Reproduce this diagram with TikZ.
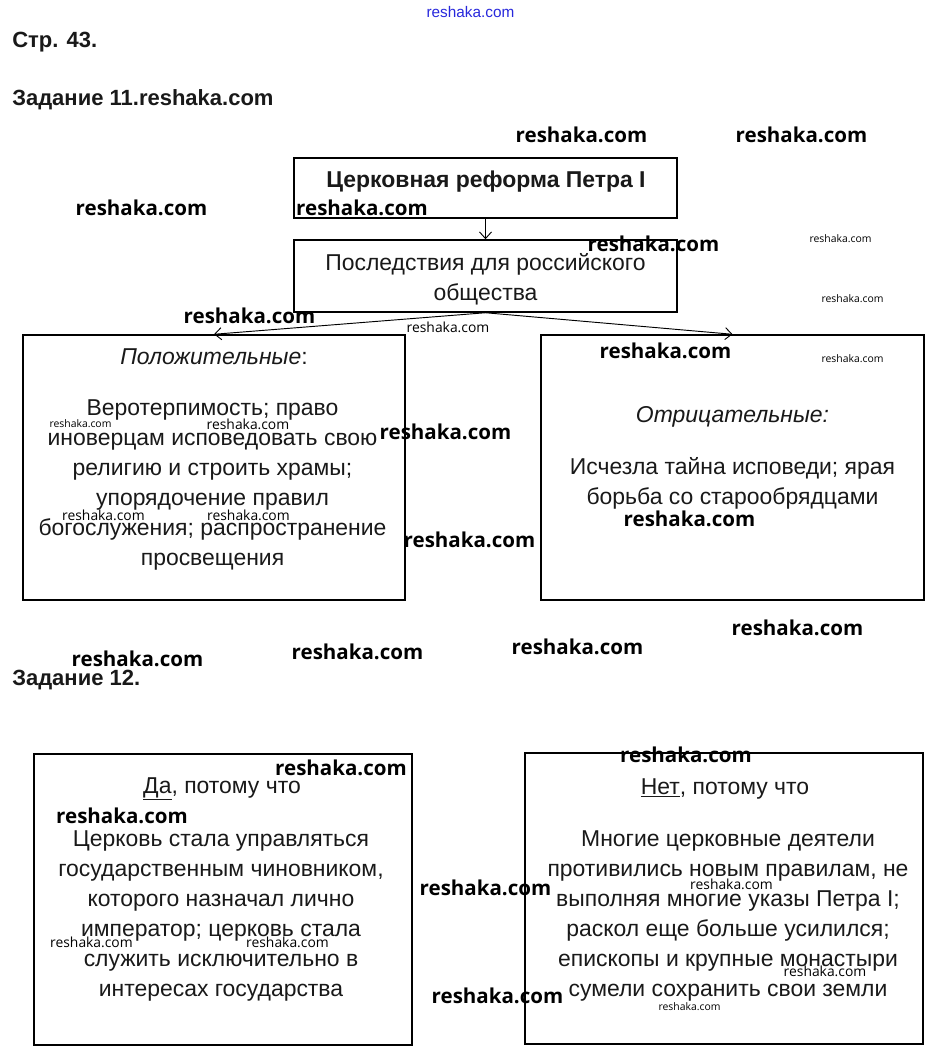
\documentclass[tikz,border=0pt]{standalone}
\usepackage{fontspec}
\setmainfont{Liberation Sans}
\newfontfamily\wmfont{Open Sans}
\usetikzlibrary{arrows.meta}
\definecolor{wmblue}{RGB}{40,40,220}
\definecolor{ink}{RGB}{25,25,25}
\tikzset{
  box/.style={draw, line width=1.1pt, inner sep=0pt},
  body/.style={align=center, inner sep=0pt, text=ink, font=\fontsize{17.2}{22.6}\selectfont},
  head/.style={inner sep=0pt, text=ink, font=\fontsize{16.5}{22.5}\selectfont\bfseries},
  conn/.style={line width=0.7pt, -{Straight Barb[length=5pt,width=9pt]}},
  wmbig/.style={inner sep=0pt, font=\wmfont\bfseries\fontsize{15.4}{18}\selectfont},
  wmmid/.style={inner sep=0pt, font=\wmfont\fontsize{10.4}{12}\selectfont},
  wmsmall/.style={inner sep=0pt, font=\wmfont\fontsize{7.8}{9}\selectfont},
}
\begin{document}
\begin{tikzpicture}[x=0.75pt,y=-0.75pt]
\useasboundingbox[fill=white] (0,0) rectangle (937,1058);

% headings
\node[inner sep=0pt, text=wmblue, font=\fontsize{11.5}{13}\selectfont] (wmtop) at (470.5,12) {reshaka.com};
\node[head, anchor=west] (page) at (12,42) {Стр. 43.};
\node[head, anchor=west] (task11) at (12,100) {Задание 11.reshaka.com};
\node[head, anchor=west] (task12) at (12,680) {Задание 12.};

% boxes
\node[box, minimum width=383*0.75pt, minimum height=60*0.75pt] (b1) at (485.5,188) {};
\node[box, minimum width=383*0.75pt, minimum height=72*0.75pt] (b2) at (485.5,276) {};
\node[box, minimum width=382*0.75pt, minimum height=265*0.75pt] (pos) at (214,467.5) {};
\node[box, minimum width=383*0.75pt, minimum height=265*0.75pt] (neg) at (732.5,467.5) {};
\node[box, minimum width=378*0.75pt, minimum height=291*0.75pt] (yes) at (223,899.5) {};
\node[box, minimum width=398*0.75pt, minimum height=291*0.75pt] (no) at (724,898.5) {};

% texts
\node[head, font=\fontsize{17.2}{22.5}\selectfont\bfseries] (t1) at (486,182) {Церковная реформа Петра I};
\node[body] (t2) at (485.5,279) {Последствия для российского\\общества};
\node[body] (posh) at (214,357) {\itshape Положительные\upshape:};
\node[body] (post) at (212.5,485) {Веротерпимость; право\\иноверцам исповедовать свою\\религию и строить храмы;\\упорядочение правил\\богослужения; распространение\\просвещения};
\node[body] (negh) at (732.5,417) {\itshape Отрицательные:};
\node[body] (negt) at (732.5,483) {Исчезла тайна исповеди; ярая\\борьба со старообрядцами};
\node[body] (yesh) at (222,789) {\underline{Да}, потому что};
\node[body] (yest) at (221,916) {Церковь стала управляться\\государственным чиновником,\\которого назначал лично\\император; церковь стала\\служить исключительно в\\интересах государства};
\node[body] (noh) at (725,789) {\underline{Нет}, потому что};
\node[body] (not) at (728,916) {Многие церковные деятели\\противились новым правилам, не\\выполняя многие указы Петра I;\\раскол еще больше усилился;\\епископы и крупные монастыри\\сумели сохранить свои земли};

% connectors
\draw[conn] (b1.south) -- (b2.north);
\draw[conn] (b2.south) -- (pos.north);
\draw[conn] (b2.south) -- (neg.north);

% watermarks (big)
\node[wmbig] (w1) at (581.5,135) {reshaka.com};
\node[wmbig] (w2) at (801.5,135) {reshaka.com};
\node[wmbig] (w3) at (141.5,208) {reshaka.com};
\node[wmbig] (w4) at (362,208) {reshaka.com};
\node[wmbig] (w5) at (653.5,244) {reshaka.com};
\node[wmbig] (w6) at (249.5,316) {reshaka.com};
\node[wmbig] (w7) at (665.5,351) {reshaka.com};
\node[wmbig] (w8) at (445.5,432) {reshaka.com};
\node[wmbig] (w9) at (469.5,540) {reshaka.com};
\node[wmbig] (w10) at (689.5,519) {reshaka.com};
\node[wmbig] (w11) at (797.5,628) {reshaka.com};
\node[wmbig] (w12) at (137.5,659) {reshaka.com};
\node[wmbig] (w13) at (357.5,652) {reshaka.com};
\node[wmbig] (w14) at (577.5,647) {reshaka.com};
\node[wmbig] (w15) at (686,755) {reshaka.com};
\node[wmbig] (w16) at (341,768) {reshaka.com};
\node[wmbig] (w17) at (122,816) {reshaka.com};
\node[wmbig] (w18) at (485.5,888) {reshaka.com};
\node[wmbig] (w19) at (497.5,996) {reshaka.com};
% watermarks (medium)
\node[wmmid] (m1) at (448,327) {reshaka.com};
\node[wmmid] (m2) at (248,424) {reshaka.com};
\node[wmmid] (m3) at (103.5,515) {reshaka.com};
\node[wmmid] (m4) at (248.5,515) {reshaka.com};
\node[wmmid] (m5) at (91.5,942) {reshaka.com};
\node[wmmid] (m6) at (287.5,942) {reshaka.com};
\node[wmmid] (m7) at (731.5,884) {reshaka.com};
\node[wmmid] (m8) at (825,971) {reshaka.com};
% watermarks (small)
\node[wmsmall] (s1) at (840.5,239) {reshaka.com};
\node[wmsmall] (s2) at (852.5,299) {reshaka.com};
\node[wmsmall] (s3) at (852.5,359) {reshaka.com};
\node[wmsmall] (s4) at (80.5,424) {reshaka.com};
\node[wmsmall] (s5) at (689.5,1007) {reshaka.com};
\end{tikzpicture}
\end{document}
